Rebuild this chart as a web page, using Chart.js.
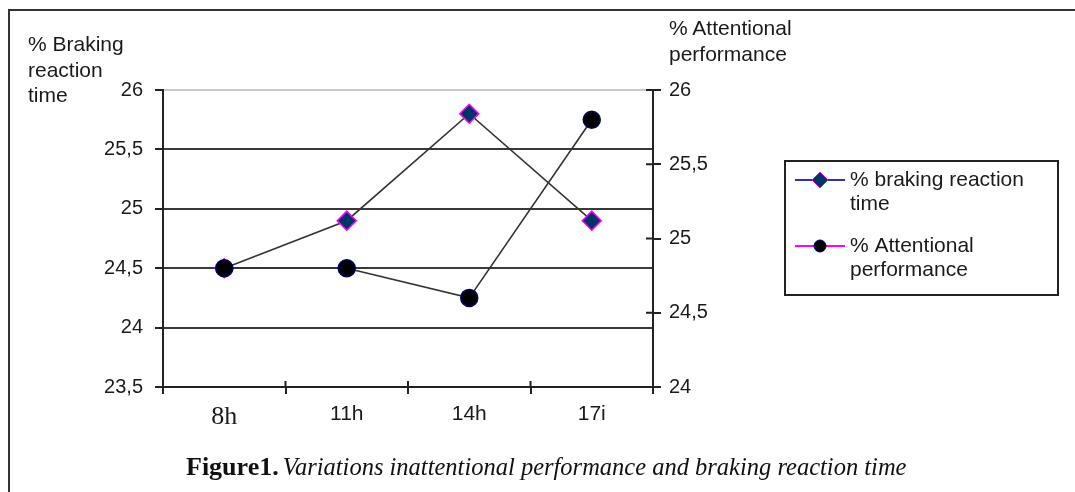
<!DOCTYPE html>
<html>
<head>
<meta charset="utf-8">
<script src="https://cdn.jsdelivr.net/npm/chart.js@4.4.0/dist/chart.umd.min.js"></script>
<style>
  body { margin: 0; background: #fff; }
  #wrap { position: relative; width: 1075px; height: 492px; overflow: hidden; }
  #frame { position: absolute; left: 8px; top: 9px; width: 1100px; height: 520px;
           border-top: 2px solid #333; border-left: 2px solid #333; }
  .axisTitle { position: absolute; font-family: 'Liberation Sans', Arial, sans-serif;
               font-size: 21px; line-height: 25.5px; color: #1a1a1a; white-space: nowrap; }
  #caption { position: absolute; left: 186px; top: 453px; line-height: 28px;
             font-family: 'Liberation Serif', 'Times New Roman', serif;
             color: #111; white-space: nowrap; }
  #caption b { font-size: 26px; }
  #caption i { font-size: 24.5px; }
  canvas { position: absolute; left: 0; top: 0; }
</style>
</head>
<body>
<div id="wrap">
  <div id="frame"></div>
  <canvas id="fig" width="1075" height="492"></canvas>
  <div class="axisTitle" style="left:28px; top:31px;">% Braking<br>reaction<br>time</div>
  <div class="axisTitle" style="left:669px; top:15px;">% Attentional<br>performance</div>
  <div id="caption"><b>Figure1.</b> <i>Variations inattentional performance and braking reaction time</i></div>
</div>
<script>
// values
const categories = ['8h', '11h', '14h', '17i'];
const brakingReaction = [24.5, 24.9, 25.8, 24.9];     // left axis
const attentionalPerf = [24.8, 24.8, 24.6, 25.8];     // right axis
const leftTicks = [23.5, 24, 24.5, 25, 25.5, 26];
const rightTicks = [24, 24.5, 25, 25.5, 26];

const sans = 'Liberation Sans, Arial, sans-serif';
const textColor = '#1a1a1a';
const axisColor = '#222';

const commaDecimal = v => String(v).replace('.', ',');

// tick marks in the original cross the axis line, draw the inner half
const innerTicks = {
    id: 'innerTicks',
    afterDraw(chart) {
        const ctx = chart.ctx;
        const y1 = chart.scales.y1;
        const area = chart.chartArea;
        ctx.save();
        ctx.strokeStyle = axisColor;
        ctx.lineWidth = 2;
        ctx.beginPath();
        for (let i = 0; i <= categories.length; i++) {
            const px = area.left + i * (area.right - area.left) / categories.length;
            ctx.moveTo(px, area.bottom);
            ctx.lineTo(px, area.bottom - 6);
        }
        rightTicks.forEach(v => {
            const py = y1.getPixelForValue(v);
            ctx.moveTo(area.right, py);
            ctx.lineTo(area.right - 7, py);
        });
        ctx.stroke();
        ctx.restore();
    }
};

// legend box drawn by hand, it sits on the right of the plot
const boxLegend = {
    id: 'boxLegend',
    afterDraw(chart) {
        const ctx = chart.ctx;
        ctx.save();
        ctx.strokeStyle = axisColor;
        ctx.lineWidth = 2;
        ctx.strokeRect(785, 161, 273, 134);

        const entries = [
            { y: 180, line: '#333399', style: 'rectRot', r: 8, fill: '#003366', stroke: '#ff00ff',
              text: ['% braking reaction', 'time'] },
            { y: 246, line: '#ff00ff', style: 'circle', r: 6, fill: '#000', stroke: '#000066',
              text: ['% Attentional', 'performance'] }
        ];
        entries.forEach(e => {
            ctx.strokeStyle = e.line;
            ctx.lineWidth = 2;
            ctx.beginPath();
            ctx.moveTo(795, e.y);
            ctx.lineTo(845, e.y);
            ctx.stroke();
            ctx.fillStyle = e.fill;
            ctx.strokeStyle = e.stroke;
            ctx.lineWidth = 1;
            Chart.helpers.drawPoint(ctx, { pointStyle: e.style, radius: e.r, borderWidth: 1 }, 820, e.y);
            ctx.fillStyle = textColor;
            ctx.font = '21px ' + sans;
            ctx.textBaseline = 'middle';
            ctx.textAlign = 'left';
            ctx.fillText(e.text[0], 850, e.y);
            ctx.fillText(e.text[1], 850, e.y + 24);
        });
        ctx.restore();
    }
};

new Chart(document.getElementById('fig'), {
    type: 'line',
    data: {
        labels: categories,
        datasets: [
            {
                label: '% braking reaction time',
                data: brakingReaction,
                yAxisID: 'y',
                borderColor: '#333',
                borderWidth: 1.6,
                pointStyle: 'rectRot',
                pointRadius: 9.5,
                pointBackgroundColor: '#003366',
                pointBorderColor: '#ff00ff',
                pointBorderWidth: 1.5,
                order: 1
            },
            {
                label: '% Attentional performance',
                data: attentionalPerf,
                yAxisID: 'y1',
                borderColor: '#333',
                borderWidth: 1.6,
                pointStyle: 'circle',
                pointRadius: 8.5,
                pointBackgroundColor: '#000',
                pointBorderColor: '#000066',
                pointBorderWidth: 1.5,
                order: 0
            }
        ]
    },
    options: {
        responsive: false,
        animation: false,
        layout: { padding: { top: 90, left: 0, right: 0, bottom: 0 } },
        plugins: {
            legend: { display: false },
            tooltip: { enabled: false }
        },
        scales: {
            x: {
                offset: true,
                afterFit: s => { s.height = 105; },
                grid: { offset: true, drawOnChartArea: false, tickLength: 7, color: axisColor, lineWidth: 2 },
                border: { color: axisColor, width: 2 },
                ticks: {
                    padding: 8,
                    color: textColor,
                    font: c => c.index === 0
                        ? { family: 'Liberation Serif, Times New Roman, serif', size: 26 }
                        : { family: sans, size: 21 }
                }
            },
            y: {
                position: 'left',
                min: 23.5,
                max: 26,
                afterFit: s => { s.width = 163; },
                afterBuildTicks: s => { s.ticks = leftTicks.map(v => ({ value: v })); },
                grid: {
                    color: c => (c.tick && c.tick.value === 26) ? '#c8c8c8' : '#3a3a3a',
                    lineWidth: 2,
                    tickLength: 8,
                    tickColor: axisColor
                },
                border: { color: axisColor, width: 2 },
                ticks: { padding: 12, color: textColor, font: { family: sans, size: 20 }, callback: commaDecimal }
            },
            y1: {
                position: 'right',
                min: 24,
                max: 26,
                afterFit: s => { s.width = 422; },
                afterBuildTicks: s => { s.ticks = rightTicks.map(v => ({ value: v })); },
                grid: { drawOnChartArea: false, tickLength: 8, color: axisColor, lineWidth: 2 },
                border: { color: axisColor, width: 2 },
                ticks: { padding: 8, color: textColor, font: { family: sans, size: 20 }, callback: commaDecimal }
            }
        }
    },
    plugins: [innerTicks, boxLegend]
});
</script>
</body>
</html>
